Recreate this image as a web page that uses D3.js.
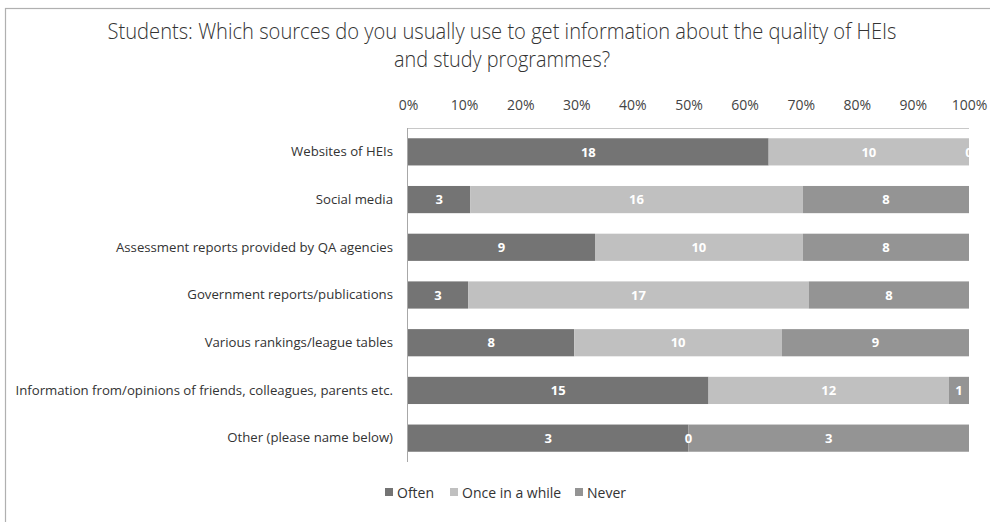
<!DOCTYPE html>
<html>
<head>
<meta charset="utf-8">
<script src="https://cdn.jsdelivr.net/npm/d3@7"></script>
<style>
  html, body { margin: 0; padding: 0; background: #fff; }
  svg { display: block; }
  text { font-family: "Open Sans", Lato, sans-serif; }
</style>
</head>
<body>
<svg id="chart" width="990" height="522"></svg>
<script>
// Survey answers (counts of respondents per answer)
const categories = [
  "Websites of HEIs",
  "Social media",
  "Assessment reports provided by QA agencies",
  "Government reports/publications",
  "Various rankings/league tables",
  "Information from/opinions of friends, colleagues, parents etc.",
  "Other (please name below)"
];
const seriesNames = ["Often", "Once in a while", "Never"];
const often       = [18, 3, 9, 3, 8, 15, 3];
const onceInWhile = [10, 16, 10, 17, 10, 12, 0];
const never       = [0, 8, 8, 8, 9, 1, 3];
const tickValues  = [0, 0.1, 0.2, 0.3, 0.4, 0.5, 0.6, 0.7, 0.8, 0.9, 1];
const colors      = ["#747474", "#c0c0c0", "#949494"];
const titleLines  = [
  "Students: Which sources do you usually use to get information about the quality of HEIs",
  "and study programmes?"
];

const svg = d3.select("#chart");

// outer frame
svg.append("rect")
  .attr("x", 5.5).attr("y", 8.5)
  .attr("width", 1000).attr("height", 600)
  .attr("fill", "none").attr("stroke", "#b0b0b0").attr("stroke-width", 1.2);

// title in a condensed setting (glyphs squeezed to the line widths)
const titleWidths = [789, 216];
svg.append("g").selectAll("text").data(titleLines).join("text")
  .attr("x", 502)
  .attr("y", (d, i) => 39 + i * 28)
  .attr("text-anchor", "middle")
  .attr("font-size", 21.5)
  .attr("font-weight", 300)
  .attr("fill", "#333")
  .attr("textLength", (d, i) => titleWidths[i])
  .attr("lengthAdjust", "spacingAndGlyphs")
  .text(d => d);

const margin = { left: 408, right: 969, top: 128, bottom: 462 };

const x = d3.scaleLinear().domain([0, 1]).range([margin.left, margin.right]);
const y = d3.scaleBand().domain(categories).range([margin.top, margin.bottom]).paddingInner(0.43).paddingOuter(0.215);

// rows: normalised stack
const rows = categories.map((c, i) => {
  const vals = [often[i], onceInWhile[i], never[i]];
  const total = d3.sum(vals);
  const r = { category: c };
  seriesNames.forEach((s, j) => { r[s] = vals[j] / total; r[s + "_n"] = vals[j]; });
  return r;
});
const layers = d3.stack().keys(seriesNames)(rows);

// top axis
const xAxis = d3.axisTop(x).tickValues(tickValues).tickFormat(d3.format(".0%")).tickSize(0).tickPadding(0);
const gx = svg.append("g").attr("transform", `translate(0,${110})`).call(xAxis);
gx.select(".domain").remove();
gx.selectAll("text").attr("font-size", 14).attr("fill", "#444").attr("dy", 0)
  .style("font-family", "\"Open Sans\", Lato, sans-serif");

// plot frame top line
svg.append("line")
  .attr("x1", margin.left).attr("x2", margin.right)
  .attr("y1", margin.top + 0.5).attr("y2", margin.top + 0.5)
  .attr("stroke", "#c8c8c8").attr("stroke-width", 1);

// clip path for plot area
svg.append("clipPath").attr("id", "plotClip")
  .append("rect")
  .attr("x", margin.left).attr("y", margin.top)
  .attr("width", margin.right - margin.left).attr("height", margin.bottom - margin.top);

// bars
const barG = svg.append("g");
layers.forEach((layer, li) => {
  barG.append("g").attr("fill", colors[li])
    .selectAll("rect").data(layer).join("rect")
    .attr("x", d => x(d[0]))
    .attr("y", d => y(d.data.category))
    .attr("width", d => x(d[1]) - x(d[0]))
    .attr("height", y.bandwidth());
});

// value labels
const labG = svg.append("g").attr("clip-path", "url(#plotClip)");
layers.forEach((layer, li) => {
  labG.append("g")
    .selectAll("text").data(layer).join("text")
    .attr("x", d => (x(d[0]) + x(d[1])) / 2)
    .attr("y", d => y(d.data.category) + y.bandwidth() / 2)
    .attr("dy", "0.36em")
    .attr("text-anchor", "middle")
    .attr("font-size", 13)
    .attr("font-weight", 700)
    .attr("fill", "#fff")
    .text(d => d.data[seriesNames[li] + "_n"]);
});

// left axis line
svg.append("line")
  .attr("x1", margin.left - 0.5).attr("x2", margin.left - 0.5)
  .attr("y1", margin.top).attr("y2", margin.bottom)
  .attr("stroke", "#a8a8a8").attr("stroke-width", 1);

// category labels
const yAxis = d3.axisLeft(y).tickSize(0).tickPadding(15);
const gy = svg.append("g").attr("transform", `translate(${margin.left},0)`).call(yAxis);
gy.select(".domain").remove();
gy.selectAll("text").attr("font-size", 13.2).attr("fill", "#333")
  .style("font-family", "\"Open Sans\", Lato, sans-serif");

// legend
const legendX = [385, 450, 575];
const leg = svg.append("g").attr("transform", "translate(0,493)");
seriesNames.forEach((s, i) => {
  const g = leg.append("g").attr("transform", `translate(${legendX[i]},0)`);
  g.append("rect").attr("x", 0).attr("y", -5).attr("width", 8).attr("height", 8).attr("fill", colors[i]);
  g.append("text").attr("x", 12).attr("y", 0).attr("dy", "0.35em")
    .attr("font-size", 14).attr("fill", "#333").text(s);
});
</script>
</body>
</html>
